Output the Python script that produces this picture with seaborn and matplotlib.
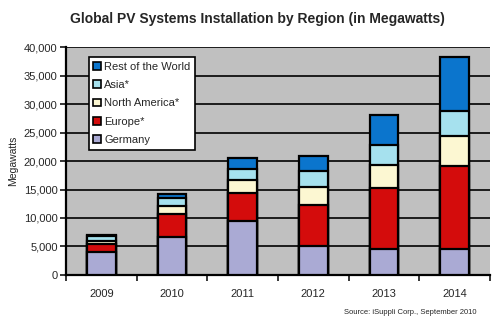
import matplotlib
matplotlib.use("Agg")
import matplotlib.pyplot as plt
import seaborn as sns
import numpy as np
import pandas as pd
from matplotlib.ticker import FuncFormatter, FixedLocator
from matplotlib.patches import Patch

years = ["2009", "2010", "2011", "2012", "2013", "2014"]
germany = [4000, 6600, 9400, 5000, 4500, 4500]
europe = [1500, 4100, 5000, 7300, 10800, 14600]
north_america = [500, 1350, 2200, 3150, 4000, 5300]
asia = [800, 1450, 2050, 2750, 3450, 4300]
rest_of_world = [300, 800, 1800, 2650, 5300, 9500]

series_names = ["Germany", "Europe*", "North America*", "Asia*", "Rest of the World"]
series_vals = [germany, europe, north_america, asia, rest_of_world]
colors = ["#aaaad4", "#d40c0c", "#fcf7d2", "#a6e1ee", "#0b75cd"]

sns.set_style("white")
plt.rcParams['font.family'] = ['Liberation Sans', 'DejaVu Sans']

fig = plt.figure(figsize=(5, 3.25), dpi=100)
ax = fig.add_axes([0.132, 0.154, 0.848, 0.701])
ax.set_facecolor("#c0c0c0")

cum = np.cumsum(np.array(series_vals), axis=0)
for i in range(len(series_names) - 1, -1, -1):
    df = pd.DataFrame({"year": years, "value": cum[i]})
    sns.barplot(data=df, x="year", y="value", color=colors[i], width=0.41,
                edgecolor="black", linewidth=1.6, saturation=1, ax=ax, zorder=3)

ax.set_ylim(0, 40000)
ax.set_xlim(-0.5, 5.5)
ax.set_yticks(np.arange(0, 40001, 5000))
ax.yaxis.set_major_formatter(FuncFormatter(lambda v, p: f"{int(v):,}"))
ax.grid(axis="y", color="black", linewidth=1.2, zorder=0)
ax.set_axisbelow(True)
ax.set_xlabel("")
ax.set_ylabel("Megawatts", fontsize=7.5, labelpad=4)
ax.tick_params(axis="y", labelsize=8, length=4, width=1.3, direction="out", left=True, pad=2)
ax.tick_params(axis="x", which="major", labelsize=8, length=0, pad=10)
ax.xaxis.set_minor_locator(FixedLocator(np.arange(-0.5, 5.6, 1.0)))
ax.tick_params(axis="x", which="minor", length=4, width=1.3, direction="out", bottom=True)

for s in ["top", "right"]:
    ax.spines[s].set_visible(False)
ax.spines["left"].set_color("black")
ax.spines["left"].set_linewidth(1.6)
ax.spines["bottom"].set_color("black")
ax.spines["bottom"].set_linewidth(1.6)

handles = [Patch(facecolor=colors[i], edgecolor="black", linewidth=1.2, label=series_names[i])
           for i in range(len(series_names) - 1, -1, -1)]
leg = ax.legend(handles=handles, loc="upper left", bbox_to_anchor=(0.054, 0.955),
                fontsize=8, frameon=True, fancybox=False, edgecolor="black",
                handlelength=0.7, handleheight=0.7, handletextpad=0.3,
                labelspacing=0.75, borderpad=0.4, borderaxespad=0)
leg.get_frame().set_linewidth(1.2)
leg.get_frame().set_facecolor("white")
leg.get_frame().set_alpha(1)
leg.set_zorder(5)

fig.text(0.515, 0.94, "Global PV Systems Installation by Region (in Megawatts)",
         ha="center", va="center", fontsize=10, fontweight="bold")
fig.text(0.82, 0.037, "Source: iSuppli Corp., September 2010",
         ha="center", va="center", fontsize=5.5)

fig.savefig("out.png", dpi=100)
